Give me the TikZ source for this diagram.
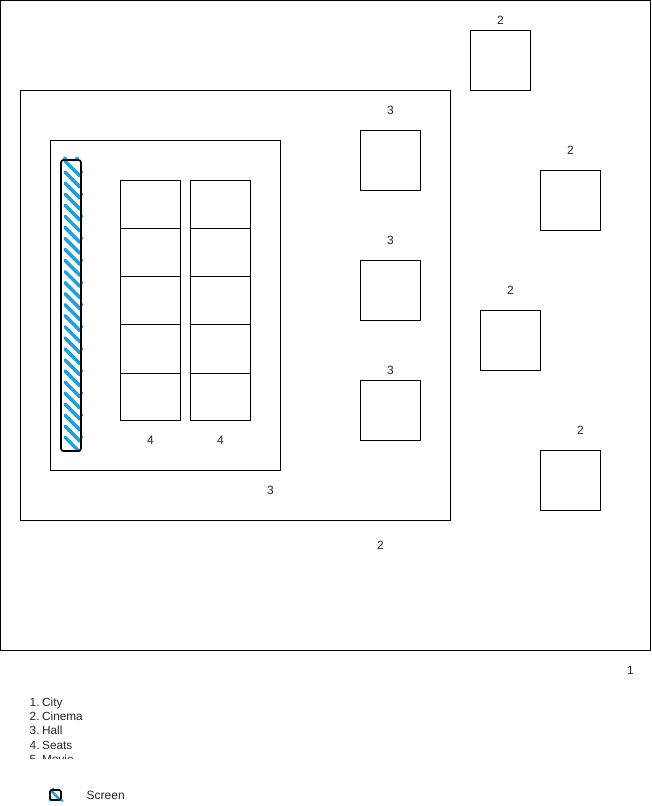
\documentclass[tikz,border=0pt]{standalone}
\usepackage{fontspec}
\setmainfont{Liberation Sans}
\definecolor{hatch}{HTML}{1BA1E2}
\tikzset{
  px/.style={x=1pt,y=-1pt},
  boxnode/.style={draw=black,line width=0.75pt,minimum width=#1,inner sep=0pt,outer sep=0pt},
  sq/.style={draw=black,line width=0.75pt,minimum width=60pt,minimum height=60pt,inner sep=0pt,outer sep=0pt},
  seat/.style={draw=black,line width=0.75pt,minimum width=60pt,inner sep=0pt,outer sep=0pt},
  lab/.style={font=\fontsize{12}{14}\selectfont,text=black!85,inner sep=0pt},
  listlab/.style={font=\fontsize{11.8}{14}\selectfont,text=black!85,inner sep=0pt},
  hatchline/.style={draw=hatch,line width=3.5pt,line cap=round},
  screenout/.style={draw=black,line width=1.7pt,rounded corners=2.5pt}
}
\begin{document}
\begin{tikzpicture}[px]
\useasboundingbox (0,0) rectangle (651,806);
\fill[white] (0,0) rectangle (651,806);
% frames
\node[boxnode=650pt,minimum height=650pt] (city) at (325.5,325.5) {};
\node[boxnode=430pt,minimum height=430pt] (cinema) at (235.5,305.5) {};
\node[boxnode=230pt,minimum height=330pt] (hall) at (165.5,305.5) {};
% cinema squares
\node[sq] (c1) at (500.5,60.5) {};
\node[sq] (c2) at (570.5,200.5) {};
\node[sq] (c3) at (510.5,340.5) {};
\node[sq] (c4) at (570.5,480.5) {};
% hall squares
\node[sq] (h1) at (390.5,160.5) {};
\node[sq] (h2) at (390.5,290.5) {};
\node[sq] (h3) at (390.5,410.5) {};
% seats
\foreach \c/\x in {a/150.5,b/220.5}{
  \node[seat,minimum height=48pt] (\c1) at (\x,204.5) {};
  \node[seat,minimum height=48pt] (\c2) at (\x,252.5) {};
  \node[seat,minimum height=48pt] (\c3) at (\x,300.5) {};
  \node[seat,minimum height=49pt] (\c4) at (\x,349) {};
  \node[seat,minimum height=47pt] (\c5) at (\x,397) {};
}
% screen
\foreach \i in {0,...,25}{
  \pgfmathsetmacro{\ya}{161+\i*11.05}
  \pgfmathsetmacro{\yb}{min(\ya+15,451)}
  \pgfmathsetmacro{\xb}{65+(\yb-\ya)}
  \draw[hatchline] (65,\ya) -- (\xb,\yb);
}
\foreach \i in {0,...,12}{
  \fill[hatch] (82,{172+\i*22.1}) circle (1.5pt);
}
\fill[hatch] (65,158.5) circle (2pt) (77,158.5) circle (2pt);
\draw[screenout] (61,160) rectangle (81,451);
\node[inner sep=0pt,outer sep=0pt,minimum width=20pt,minimum height=291pt] (screen) at (71,305.5) {};
% labels
\node[lab] (l1) at (500.5,20) {2};
\node[lab] (l2) at (570.5,150) {2};
\node[lab] (l3) at (510.5,290) {2};
\node[lab] (l4) at (580.5,430) {2};
\node[lab] (l5) at (380.5,545) {2};
\node[lab] (l6) at (390.5,110) {3};
\node[lab] (l7) at (390.5,240) {3};
\node[lab] (l8) at (390.5,370) {3};
\node[lab] (l9) at (270.5,490) {3};
\node[lab] (l10) at (150.5,440) {4};
\node[lab] (l11) at (220.5,440) {4};
\node[lab] (l12) at (630.5,670) {1};
% list
\begin{scope}
\clip (20,690) rectangle (200,758);
\node[listlab,anchor=base west] (i1) at (29.5,706) {1.\kern2.6pt City};
\node[listlab,anchor=base west] (i2) at (29.5,720) {2.\kern2.6pt Cinema};
\node[listlab,anchor=base west] (i3) at (29.5,734.3) {3.\kern2.6pt Hall};
\node[listlab,anchor=base west] (i4) at (29.5,749) {4.\kern2.6pt Seats};
\node[listlab,anchor=base west] (i5) at (29.5,763) {5.\kern2.6pt Movie};
\end{scope}
% legend
\draw[hatchline,line width=2.6pt] (51,790.5) -- (60,800);
\fill[hatch] (50,800) circle (1.6pt) (62,800.5) circle (1.6pt) (53,788.5) circle (1.2pt);
\draw[draw=black,line width=1.7pt,rounded corners=1.5pt] (50,790) rectangle (61,800);
\node[lab,anchor=base west] (legend) at (86.5,799) {Screen};
\end{tikzpicture}
\end{document}
